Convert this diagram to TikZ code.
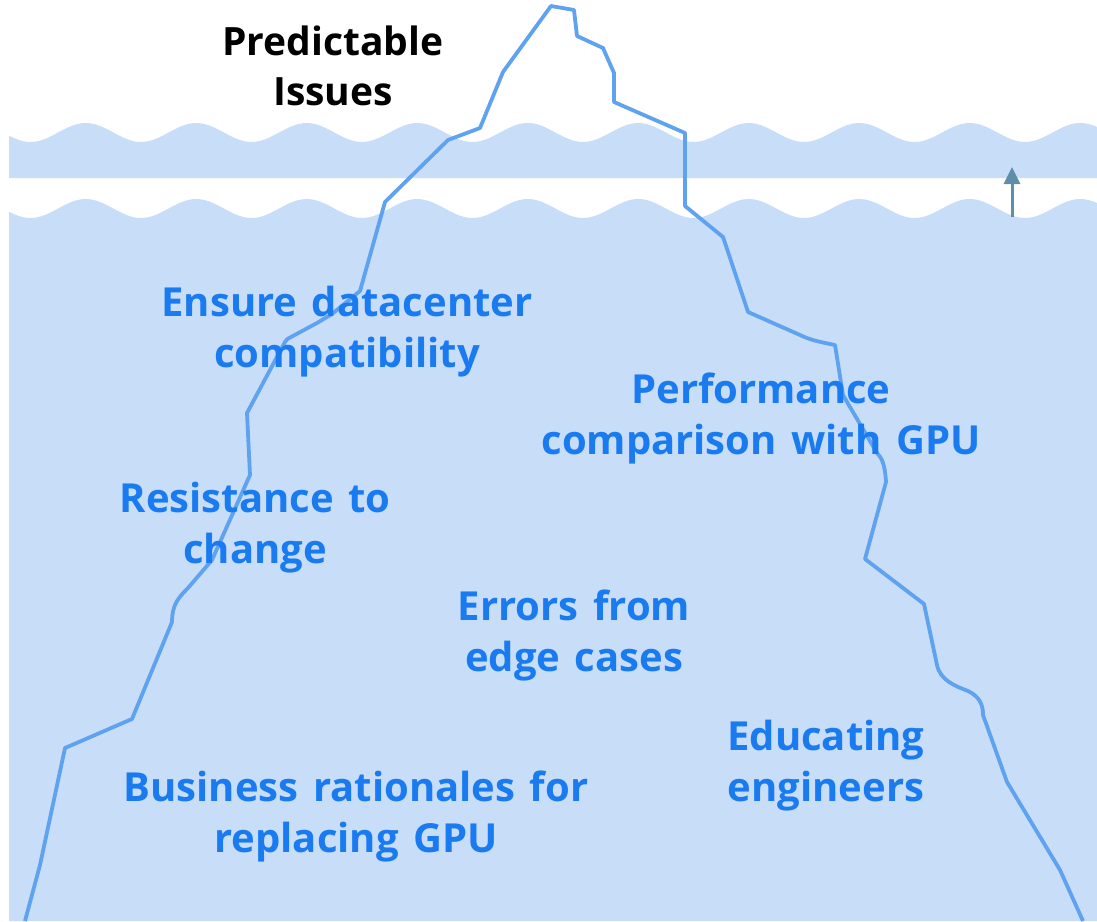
\documentclass[tikz,border=0pt]{standalone}
\usepackage{fontspec}
\setmainfont{Open Sans}[WordSpace=1.4]
\usetikzlibrary{arrows.meta}
\definecolor{water}{RGB}{200,222,248}
\definecolor{berg}{RGB}{95,162,240}
\definecolor{labelblue}{RGB}{26,123,240}
\definecolor{rise}{RGB}{96,142,170}
\tikzset{
  bluetext/.style={font=\fontsize{40}{51}\selectfont\bfseries, text=labelblue, anchor=base, inner sep=0pt},
  blacktext/.style={font=\fontsize{39}{49}\selectfont\bfseries, text=black, anchor=base, inner sep=0pt},
  iceberg/.style={draw=berg, line width=3.8pt, line join=round},
  risearrow/.style={draw=rise, line width=3pt, -{Triangle[width=16pt,length=17pt]}},
}
\begin{document}
\begin{tikzpicture}[x=1pt,y=-1pt]
  \useasboundingbox (0,0) rectangle (1097,921);

  % surface band (wave period 110.5: 360/110.5 = 3.25792 degrees per unit)
  \fill[water] plot[domain=9:1097,samples=300,smooth]
    (\x,{132.5+9.5*cos(3.25792*(\x-30.5))}) -- (1097,178) -- (9,178) -- cycle;
  % deep water
  \fill[water] plot[domain=9:1097,samples=300,smooth]
    (\x,{208.5+9.5*cos(3.25792*(\x-30.5))}) -- (1097,921) -- (9,921) -- cycle;

  % rising arrow
  \coordinate (arrowfoot) at (1012,217);
  \coordinate (arrowtip) at (1012,167);
  \draw[risearrow] (arrowfoot) -- (arrowtip);

  % iceberg outline
  \draw[iceberg] (25,921) -- (40,865) -- (65,748) -- (132,719) -- (172,622)
    .. controls (172,605) and (178,598) .. (188,588) -- (212,560) -- (250,475)
    -- (247,413) -- (285,342) .. controls (287,339) .. (291,337) -- (317,323)
    -- (332,314) -- (360,291) -- (385,202) -- (448,140) -- (480,128)
    -- (503,72) -- (551,6) -- (574,10) -- (577,36) -- (603,48) -- (614,73)
    -- (614,102) -- (685,133) -- (685,206) -- (723,237) -- (748,312)
    -- (800,335) .. controls (810,340) and (820,342) .. (835,345)
    -- (843,395) -- (850,407) -- (877,453)
    .. controls (882,458) and (885,465) .. (886,482) -- (865,559)
    -- (924,604) -- (937,665) .. controls (940,680) and (955,686) .. (968,691)
    .. controls (980,697) and (983,705) .. (983,715) -- (1007,782)
    -- (1060,870) -- (1083,921);

  % labels
  \node[blacktext] (pred1) at (333,55) {Predictable};
  \node[blacktext] (pred2) at (333,105) {Issues};

  \node[bluetext] (ens1) at (347,316) {Ensure datacenter};
  \node[bluetext] (ens2) at (347,367) {compatibility};

  \node[bluetext] (perf1) at (761,403) {Performance};
  \node[bluetext] (perf2) at (761,454) {comparison with GPU};

  \node[bluetext] (res1) at (255,512) {Resistance to};
  \node[bluetext] (res2) at (255,563) {change};

  \node[bluetext] (err1) at (574,620) {Errors from};
  \node[bluetext] (err2) at (574,671) {edge cases};

  \node[bluetext] (edu1) at (826,750) {Educating};
  \node[bluetext] (edu2) at (826,801) {engineers};

  \node[bluetext] (bus1) at (356,801) {Business rationales for};
  \node[bluetext] (bus2) at (356,852) {replacing GPU};
\end{tikzpicture}
\end{document}
